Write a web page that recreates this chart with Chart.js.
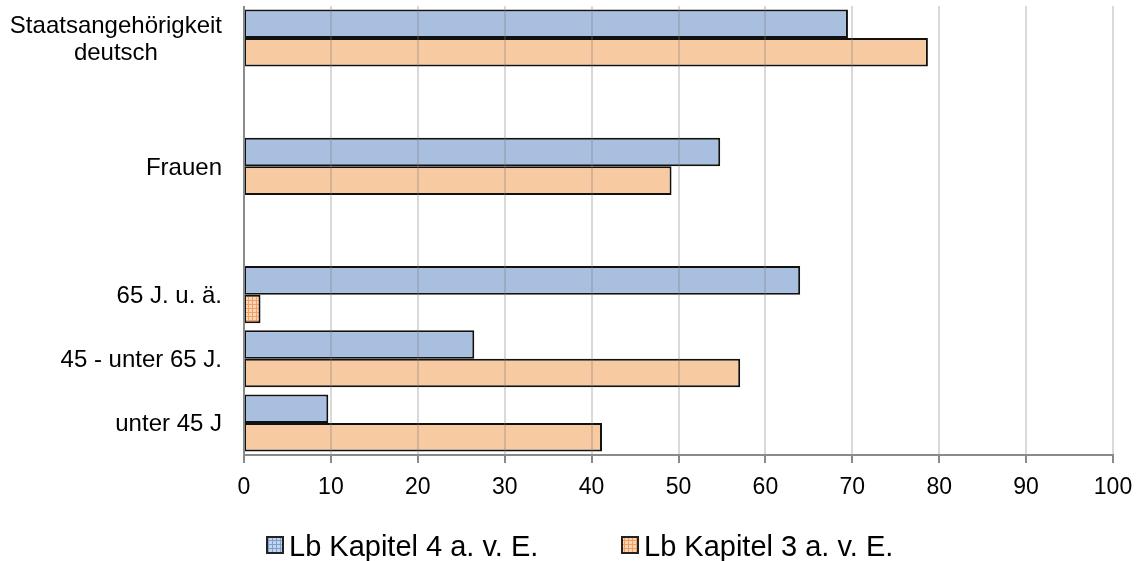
<!DOCTYPE html>
<html>
<head>
<meta charset="utf-8">
<script src="https://cdn.jsdelivr.net/npm/chart.js@4/dist/chart.umd.min.js"></script>
<style>
  html, body { margin: 0; padding: 0; background: #fff; }
  #wrap { width: 1142px; height: 561px; position: relative; }
</style>
</head>
<body>
<div id="wrap"><canvas id="c" width="1142" height="561"></canvas></div>
<script>
// Categories (empty entries are spacer rows between groups)
const categories = [['Staatsangehörigkeit', 'deutsch'], '', 'Frauen', '', '65 J. u. ä.', '45 - unter 65 J.', 'unter 45 J'];
const seriesNames = ['Lb Kapitel 4 a. v. E.', 'Lb Kapitel 3 a. v. E.'];
const kapitel4 = [69.5, null, 54.8, null, 64.0, 26.5, 9.7];
const kapitel3 = [78.7, null, 49.2, null, 1.9, 57.1, 41.2];
const xTickValues = [0, 10, 20, 30, 40, 50, 60, 70, 80, 90, 100];

const FONT = "'Liberation Sans', Arial, sans-serif";
const BLUE = '#a8bfdf';
const ORANGE = '#f8caa2';
const AXIS = '#8a8a8a';

// small checkered fill used for narrow bars and legend swatches
function gridPattern(base, line) {
  const p = document.createElement('canvas');
  p.width = 4; p.height = 4;
  const g = p.getContext('2d');
  g.fillStyle = base; g.fillRect(0, 0, 4, 4);
  g.fillStyle = line; g.fillRect(0, 0, 4, 1); g.fillRect(0, 0, 1, 4);
  return g.createPattern(p, 'repeat');
}
const ctx = document.getElementById('c').getContext('2d');
const bluePattern = gridPattern('#c4d4ea', '#7f9fcf');
const orangePattern = gridPattern('#fbd6b6', '#f2a062');

function fillFor(solid, pattern) {
  return (c) => {
    const v = c.raw;
    return (v !== null && v !== undefined && v < 5) ? pattern : solid;
  };
}

// value axis: light gridlines over the bars, axis lines, tick marks and labels
const valueAxis = {
  id: 'valueAxis',
  afterDatasetsDraw(chart) {
    const x = chart.scales.x;
    const a = chart.chartArea;
    const c = chart.ctx;
    c.save();
    c.lineWidth = 2;
    c.strokeStyle = 'rgba(120,120,120,0.28)';
    xTickValues.forEach(v => {
      if (v === 0) return;
      const px = Math.round(x.getPixelForValue(v));
      c.beginPath(); c.moveTo(px, a.top); c.lineTo(px, a.bottom); c.stroke();
    });
    // axis lines
    c.strokeStyle = AXIS;
    c.beginPath(); c.moveTo(a.left, a.top); c.lineTo(a.left, a.bottom + 1); c.stroke();
    c.beginPath(); c.moveTo(a.left - 1, a.bottom); c.lineTo(a.right + 1, a.bottom); c.stroke();
    // tick marks
    xTickValues.forEach(v => {
      const px = Math.round(x.getPixelForValue(v));
      c.beginPath(); c.moveTo(px, a.bottom); c.lineTo(px, a.bottom + 8); c.stroke();
    });
    // tick labels
    c.font = '23px ' + FONT;
    c.fillStyle = '#000';
    c.textAlign = 'center';
    c.textBaseline = 'alphabetic';
    xTickValues.forEach(v => {
      c.fillText(String(v), x.getPixelForValue(v), a.bottom + 39);
    });
    c.restore();
  }
};

// category labels: single lines right-aligned, wrapped lines centred on their block
const categoryLabels = {
  id: 'categoryLabels',
  afterDraw(chart) {
    const y = chart.scales.y;
    const c = chart.ctx;
    const right = 222;
    const lh = 27;
    c.save();
    c.font = '24px ' + FONT;
    c.fillStyle = '#000';
    c.textBaseline = 'alphabetic';
    c.textAlign = 'center';
    categories.forEach((lab, i) => {
      const lines = Array.isArray(lab) ? lab : [lab];
      if (!lines.join('')) return;
      const w = Math.max(...lines.map(l => c.measureText(l).width));
      const cy = y.getPixelForValue(i);
      const y0 = cy - (lines.length - 1) * lh / 2 + 8.5;
      lines.forEach((l, k) => c.fillText(l, right - w / 2, y0 + k * lh));
    });
    c.restore();
  }
};

// legend row under the axis
const bottomLegend = {
  id: 'bottomLegend',
  afterDraw(chart) {
    const c = chart.ctx;
    const fills = [bluePattern, orangePattern];
    const starts = [267, 622];
    const box = 16, gap = 6;
    const cy = 545;
    c.save();
    c.font = '29px ' + FONT;
    c.textBaseline = 'alphabetic';
    c.textAlign = 'left';
    chart.data.datasets.forEach((ds, i) => {
      const x = starts[i];
      c.fillStyle = fills[i];
      c.fillRect(x, cy - box / 2, box, box);
      c.lineWidth = 2;
      c.strokeStyle = '#222';
      c.strokeRect(x, cy - box / 2, box, box);
      c.fillStyle = '#000';
      c.fillText(ds.label, x + box + gap, cy + 10.5);
    });
    c.restore();
  }
};

new Chart(ctx, {
  type: 'bar',
  data: {
    labels: categories,
    datasets: [
      { label: seriesNames[0], data: kapitel4, backgroundColor: fillFor(BLUE, bluePattern) },
      { label: seriesNames[1], data: kapitel3, backgroundColor: fillFor(ORANGE, orangePattern) }
    ]
  },
  options: {
    indexAxis: 'y',
    responsive: false,
    animation: false,
    devicePixelRatio: 1,
    layout: { padding: { top: 6, right: 29, bottom: 106, left: 244 } },
    datasets: {
      bar: {
        borderColor: '#111',
        borderWidth: 2,
        borderSkipped: false,
        categoryPercentage: 0.89,
        barPercentage: 1.0
      }
    },
    plugins: {
      legend: { display: false },
      tooltip: { enabled: false }
    },
    scales: {
      x: { display: false, min: 0, max: 100 },
      y: { display: false }
    }
  },
  plugins: [valueAxis, categoryLabels, bottomLegend]
});
</script>
</body>
</html>
